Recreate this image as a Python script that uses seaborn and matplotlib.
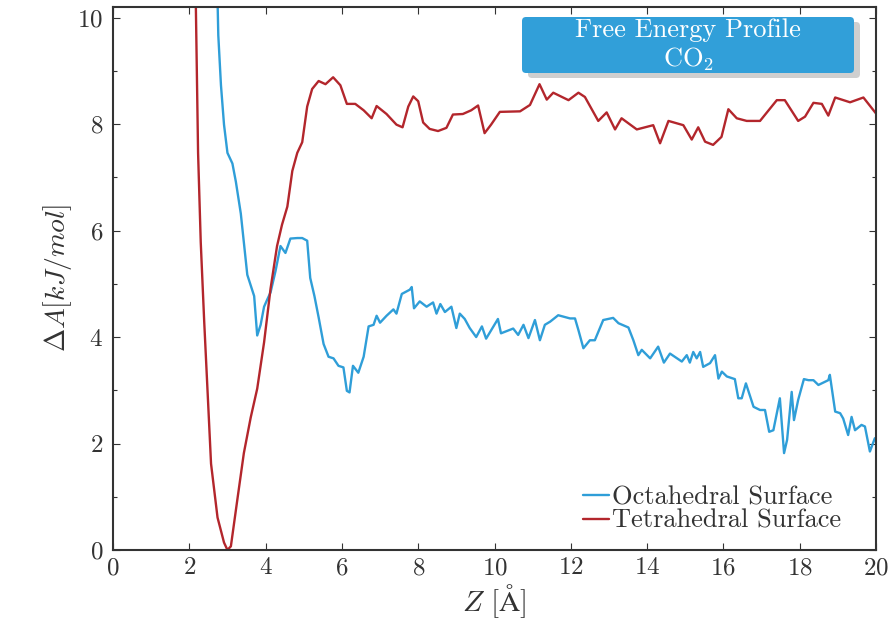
import numpy as np
import pandas as pd
import matplotlib
matplotlib.use("Agg")
import matplotlib.pyplot as plt
import seaborn as sns
from matplotlib.patches import FancyBboxPatch
from matplotlib.ticker import MultipleLocator

# ---------------- data ----------------
red_z = [2.10, 2.17, 2.23, 2.30, 2.39, 2.48, 2.57, 2.74, 2.91, 3.00, 3.09, 3.26, 3.43, 3.61,
         3.78, 3.96, 4.13, 4.30, 4.43, 4.57, 4.70, 4.83, 4.96, 5.09, 5.22, 5.39, 5.57, 5.77,
         5.96, 6.13, 6.35, 6.57, 6.78, 6.91, 7.17, 7.43, 7.59, 7.74, 7.87, 8.00, 8.13, 8.30,
         8.52, 8.74, 8.91, 9.17, 9.39, 9.57, 9.74, 9.91, 10.14, 10.67, 10.93, 11.18, 11.37,
         11.54, 11.94, 12.20, 12.37, 12.72, 12.94, 13.16, 13.33, 13.73, 14.16, 14.34, 14.56,
         14.95, 15.17, 15.34, 15.52, 15.73, 15.95, 16.13, 16.35, 16.61, 16.96, 17.40, 17.61,
         17.96, 18.14, 18.36, 18.58, 18.75, 18.93, 19.32, 19.67, 20.00]
red_a = [12.0, 10.3, 7.46, 5.78, 4.30, 2.96, 1.62, 0.61, 0.14, 0.00, 0.07, 0.95, 1.82, 2.49,
         3.03, 3.90, 4.91, 5.71, 6.11, 6.45, 7.12, 7.46, 7.66, 8.33, 8.66, 8.81, 8.75, 8.88,
         8.73, 8.38, 8.38, 8.26, 8.11, 8.34, 8.19, 7.99, 7.94, 8.33, 8.52, 8.43, 8.03, 7.91,
         7.87, 7.93, 8.18, 8.19, 8.26, 8.35, 7.83, 7.99, 8.23, 8.24, 8.36, 8.75, 8.46,
         8.59, 8.45, 8.59, 8.51, 8.06, 8.22, 7.90, 8.11, 7.90, 7.98, 7.64, 8.06,
         7.98, 7.71, 7.94, 7.67, 7.61, 7.76, 8.28, 8.11, 8.06, 8.06, 8.45, 8.45,
         8.06, 8.14, 8.40, 8.38, 8.16, 8.50, 8.41, 8.50, 8.20]

blue_z = [2.72, 2.76, 2.83, 2.91, 3.00, 3.13, 3.22, 3.35, 3.43, 3.52, 3.61, 3.70, 3.78, 3.87,
          3.96, 4.04, 4.13, 4.26, 4.39, 4.52, 4.65, 4.83, 4.96, 5.09, 5.17, 5.28, 5.39, 5.52,
          5.65, 5.78, 5.91, 6.04, 6.13, 6.20, 6.29, 6.43, 6.57, 6.70, 6.83, 6.91, 7.00, 7.17,
          7.35, 7.43, 7.57, 7.78, 7.83, 7.89, 8.04, 8.22, 8.39, 8.48, 8.58, 8.70, 8.87, 9.00,
          9.09, 9.22, 9.35, 9.52, 9.67, 9.78, 10.09, 10.17, 10.49, 10.62, 10.76, 10.89, 11.06,
          11.19, 11.32, 11.46, 11.67, 11.98, 12.11, 12.20, 12.33, 12.50, 12.63, 12.85, 13.11,
          13.25, 13.51, 13.64, 13.77, 13.86, 14.08, 14.29, 14.44, 14.60, 14.91, 15.04, 15.12,
          15.21, 15.30, 15.39, 15.47, 15.65, 15.78, 15.87, 15.96, 16.09, 16.30, 16.39, 16.48,
          16.59, 16.79, 16.96, 17.09, 17.20, 17.31, 17.48, 17.59, 17.67, 17.79, 17.85, 17.96,
          18.11, 18.23, 18.36, 18.49, 18.75, 18.79, 18.93, 19.06, 19.14, 19.27, 19.36, 19.45,
          19.62, 19.71, 19.84, 19.97]
blue_a = [11.0, 9.67, 8.73, 7.99, 7.46, 7.26, 6.92, 6.32, 5.78, 5.17, 4.97, 4.77, 4.03, 4.23,
          4.57, 4.70, 4.84, 5.24, 5.71, 5.58, 5.85, 5.86, 5.86, 5.81, 5.11, 4.77, 4.37, 3.87,
          3.63, 3.60, 3.46, 3.43, 2.99, 2.96, 3.46, 3.33, 3.63, 4.20, 4.23, 4.40, 4.27, 4.40,
          4.52, 4.44, 4.81, 4.89, 4.94, 4.54, 4.67, 4.57, 4.65, 4.44, 4.62, 4.47, 4.57, 4.17,
          4.44, 4.34, 4.17, 4.00, 4.20, 3.97, 4.34, 4.07, 4.16, 4.04, 4.23, 3.98, 4.32,
          3.94, 4.23, 4.29, 4.41, 4.35, 4.35, 4.13, 3.79, 3.94, 3.94, 4.32, 4.36,
          4.26, 4.18, 3.94, 3.66, 3.76, 3.60, 3.82, 3.52, 3.69, 3.54, 3.66, 3.52,
          3.72, 3.60, 3.72, 3.44, 3.51, 3.66, 3.22, 3.35, 3.26, 3.21, 2.85, 2.85,
          3.13, 2.69, 2.63, 2.63, 2.22, 2.25, 2.85, 1.82, 2.07, 2.97, 2.44, 2.82,
          3.21, 3.19, 3.19, 3.10, 3.19, 3.29, 2.60, 2.57, 2.47, 2.16, 2.50, 2.25,
          2.35, 2.32, 1.85, 2.10]

series_names = ["Octahedral Surface", "Tetrahedral Surface"]
x_ticks = [0, 2, 4, 6, 8, 10, 12, 14, 16, 18, 20]
y_ticks = [0, 2, 4, 6, 8, 10]

# ---------------- style ----------------
sns.set_style("ticks")
plt.rcParams["font.family"] = ["cmr10", "DejaVu Serif"]
plt.rcParams["mathtext.fontset"] = "cm"
plt.rcParams["axes.formatter.use_mathtext"] = True
plt.rcParams["axes.unicode_minus"] = False

BLUE = "#2f9ed8"
RED = "#b3262c"
DARK = "#333333"

df = pd.concat([
    pd.DataFrame({"z": blue_z, "a": blue_a, "surface": series_names[0]}),
    pd.DataFrame({"z": red_z, "a": red_a, "surface": series_names[1]}),
])

fig = plt.figure(figsize=(8.96, 6.18), dpi=100)
ax = fig.add_axes([113 / 896, 1 - 550 / 618, (876 - 113) / 896, (550 - 7) / 618])

sns.lineplot(data=df, x="z", y="a", hue="surface", hue_order=series_names,
             palette=[BLUE, RED], linewidth=1.7, sort=False, estimator=None, ax=ax)

ax.set_xlim(0, 20)
ax.set_ylim(0, 10.2)
ax.set_xticks(x_ticks)
ax.set_yticks(y_ticks)
ax.yaxis.set_minor_locator(MultipleLocator(1))
ax.tick_params(which="both", direction="in", top=True, right=True, colors=DARK,
               labelcolor=DARK, labelsize=18, width=0.8)
ax.tick_params(which="major", length=5)
ax.tick_params(axis="y", which="major", pad=7)
ax.tick_params(axis="x", which="major", pad=5)
ax.tick_params(which="minor", length=3)
for s in ax.spines.values():
    s.set_color(DARK)
    s.set_linewidth(1.5)

ax.set_xlabel(r"$Z\ [\mathrm{\AA}]$", fontsize=21, color=DARK, labelpad=2)
ax.set_ylabel(r"$\Delta A[kJ/mol]$", fontsize=20, color=DARK, labelpad=2)

leg = ax.legend(loc="lower right", bbox_to_anchor=(0.985, -0.012), frameon=False,
                fontsize=19, handlelength=1.0, handletextpad=0.1, labelspacing=0.0,
                labelcolor=DARK)

# title box (inch coordinates = 100 px per inch)
tr = fig.dpi_scale_trans
shadow = FancyBboxPatch((5.28, 5.40), 3.32, 0.56, boxstyle="round,pad=0,rounding_size=0.04",
                        transform=tr, fc="#cfcfcf", ec="none", zorder=5)
box = FancyBboxPatch((5.22, 5.45), 3.32, 0.56, boxstyle="round,pad=0,rounding_size=0.04",
                     transform=tr, fc="#319fd9", ec="none", zorder=6)
fig.patches.extend([shadow, box])
fig.text(6.88, 5.875, "Free Energy Profile", transform=tr, ha="center", va="center",
         color="white", fontsize=19, zorder=7)
fig.text(6.88, 5.59, r"CO$_2$", transform=tr, ha="center", va="center",
         color="white", fontsize=19, zorder=7)

fig.savefig("out.png", dpi=100)
